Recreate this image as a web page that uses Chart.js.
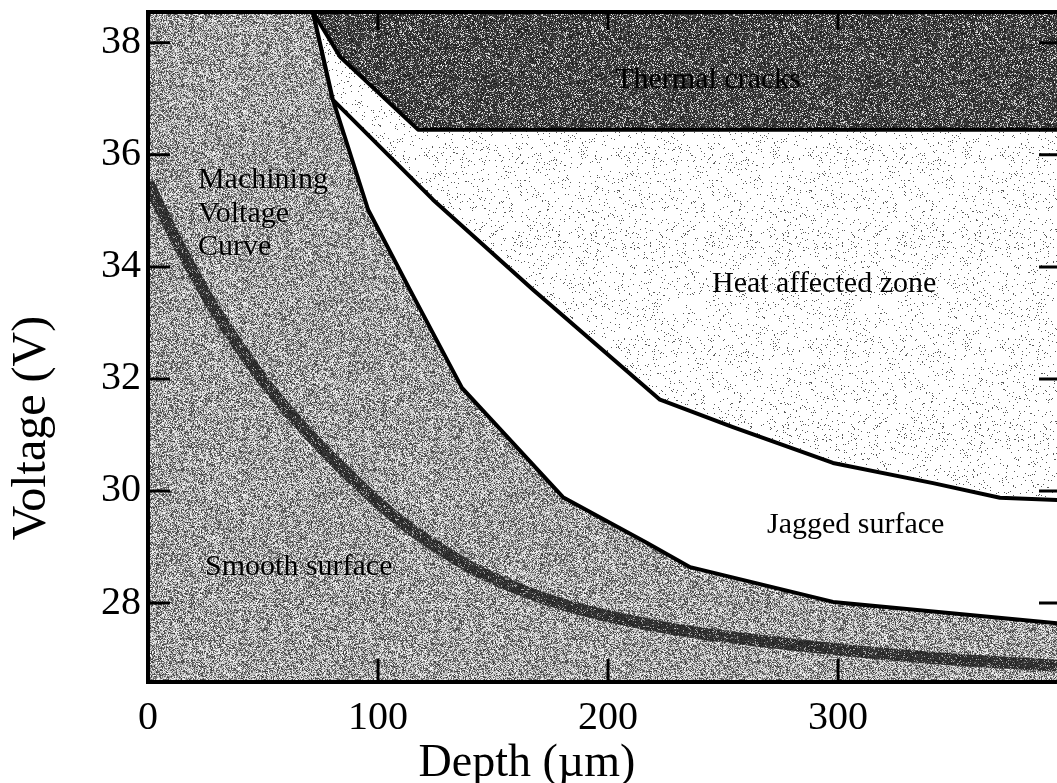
<!DOCTYPE html>
<html>
<head>
<meta charset="utf-8">
<script src="https://cdn.jsdelivr.net/npm/chart.js@4/dist/chart.umd.min.js"></script>
<style>
  html, body { margin: 0; padding: 0; background: #fff; overflow: hidden; }
  #wrap { width: 1057px; height: 783px; position: relative; }
</style>
</head>
<body>
<div id="wrap"><canvas id="c" width="1057" height="783"></canvas></div>
<script>
// Machining voltage curve: depth (µm) vs voltage (V)
const curveDepth = [0, 12.6, 28.3, 51.7, 74.8, 92.2, 109.6, 128.3, 145.7, 182.2, 218.3, 240.0, 297.8, 341.3, 395.2];
const curveVolt  = [35.5, 34.45, 33.29, 31.89, 30.80, 30.09, 29.46, 28.93, 28.52, 27.95, 27.61, 27.46, 27.18, 27.02, 26.88];

// Boundary between smooth surface and jagged surface
const smoothEdgeDepth = [71.7, 80.4, 95.7, 113.9, 136.5, 180.4, 217.0, 235.7, 297.8, 395.2];
const smoothEdgeVolt  = [38.55, 36.98, 35.02, 33.59, 31.84, 29.89, 29.07, 28.64, 28.02, 27.64];

// Boundary between jagged surface and heat affected zone
const hazEdgeDepth = [71.7, 80.4, 123.9, 167.4, 222.6, 254.3, 297.8, 341.3, 370.4, 395.2];
const hazEdgeVolt  = [38.55, 36.98, 35.20, 33.59, 31.63, 31.14, 30.50, 30.14, 29.88, 29.84];

// Lower boundary of the thermal cracks zone
const crackEdgeDepth = [71.7, 83.5, 117.4, 395.2];
const crackEdgeVolt  = [38.55, 37.75, 36.45, 36.45];

// Axis ticks
const xTicks = [0, 100, 200, 300];
const yTicks = [28, 30, 32, 34, 36, 38];

const toPoints = (xs, ys) => xs.map((x, i) => ({ x: x, y: ys[i] }));

const canvas = document.getElementById('c');
const ctx0 = canvas.getContext('2d');

// Grainy halftone textures for the shaded zones
function grain(seed, shade) {
  const size = 192;
  const tile = document.createElement('canvas');
  tile.width = size; tile.height = size;
  const g = tile.getContext('2d');
  const img = g.createImageData(size, size);
  let s = seed >>> 0;
  for (let i = 0; i < size * size; i++) {
    s = (Math.imul(s, 1664525) + 1013904223) >>> 0;
    const v = shade(s / 4294967296);
    img.data[i * 4] = v; img.data[i * 4 + 1] = v; img.data[i * 4 + 2] = v; img.data[i * 4 + 3] = 255;
  }
  g.putImageData(img, 0, 0);
  return ctx0.createPattern(tile, 'repeat');
}
const smoothTone = grain(11, u => u < 0.45 ? Math.round(55 + u * 190) : Math.round(165 + (u - 0.45) * 160));
const crackTone  = grain(23, u => u < 0.75 ? Math.round(25 + u * 70) : Math.round(120 + (u - 0.75) * 500));
const hazTone    = grain(37, u => u < 0.04 ? 90 : 255);
const curveTone  = grain(51, u => u < 0.88 ? Math.round(30 + u * 40) : Math.round(120 + (u - 0.88) * 600));

const serif = "'Liberation Serif', 'Times New Roman', serif";

// Zone labels, placed in data coordinates
const notes = [
  { text: 'Thermal cracks', x: 243.5, y: 37.34, align: 'center', glow: false },
  { text: 'Machining', x: 21.7, y: 35.55, align: 'left', glow: true },
  { text: 'Voltage', x: 21.7, y: 34.95, align: 'left', glow: true },
  { text: 'Curve', x: 21.7, y: 34.36, align: 'left', glow: true },
  { text: 'Heat affected zone', x: 245.2, y: 33.70, align: 'left', glow: false },
  { text: 'Jagged surface', x: 269.1, y: 29.39, align: 'left', glow: false },
  { text: 'Smooth surface', x: 24.8, y: 28.64, align: 'left', glow: true }
];

const plotBackground = {
  id: 'plotBackground',
  beforeDatasetsDraw(chart) {
    const { ctx, chartArea: a } = chart;
    ctx.save();
    ctx.fillStyle = smoothTone;
    ctx.fillRect(a.left, a.top, a.right - a.left, a.bottom - a.top);
    ctx.restore();
  }
};

const frameAndNotes = {
  id: 'frameAndNotes',
  afterDatasetsDraw(chart) {
    const { ctx, chartArea: a, scales } = chart;
    ctx.save();
    // zone labels
    ctx.fillStyle = '#000';
    ctx.font = '30px ' + serif;
    ctx.textBaseline = 'middle';
    notes.forEach(n => {
      ctx.shadowColor = n.glow ? 'rgba(255,255,255,0.55)' : 'transparent';
      ctx.shadowBlur = n.glow ? 3 : 0;
      ctx.textAlign = n.align;
      ctx.fillText(n.text, scales.x.getPixelForValue(n.x), scales.y.getPixelForValue(n.y));
    });
    ctx.shadowColor = 'transparent';
    ctx.shadowBlur = 0;
    // frame
    ctx.strokeStyle = '#000';
    ctx.lineWidth = 4;
    ctx.beginPath();
    ctx.moveTo(a.right + 2, a.top);
    ctx.lineTo(a.left, a.top);
    ctx.lineTo(a.left, a.bottom);
    ctx.lineTo(a.right + 2, a.bottom);
    ctx.stroke();
    // inward ticks
    ctx.lineWidth = 3;
    ctx.beginPath();
    yTicks.forEach(v => {
      const py = scales.y.getPixelForValue(v);
      ctx.moveTo(a.left, py); ctx.lineTo(a.left + 22, py);
      ctx.moveTo(a.right - 18, py); ctx.lineTo(a.right, py);
    });
    xTicks.forEach(v => {
      if (v === 0) return;
      const px = scales.x.getPixelForValue(v);
      ctx.moveTo(px, a.bottom); ctx.lineTo(px, a.bottom - 23);
      ctx.moveTo(px, a.top); ctx.lineTo(px, a.top + 18);
    });
    ctx.stroke();
    ctx.restore();
  },
  afterDraw(chart) {
    const { ctx } = chart;
    ctx.save();
    ctx.fillStyle = '#000';
    ctx.textAlign = 'center';
    ctx.textBaseline = 'alphabetic';
    ctx.font = '46px ' + serif;
    ctx.fillText('Depth (µm)', 527, 776);
    ctx.translate(45, 428);
    ctx.rotate(-Math.PI / 2);
    ctx.font = '48px ' + serif;
    ctx.fillText('Voltage (V)', 0, 0);
    ctx.restore();
  }
};

const lineStyle = { pointRadius: 0, tension: 0, borderJoinStyle: 'round', borderCapStyle: 'round' };
const noEdgePadding = s => { s.paddingTop = 0; s.paddingBottom = 0; s.paddingLeft = 0; s.paddingRight = 0; };

new Chart(canvas, {
  type: 'line',
  data: {
    datasets: [
      { label: 'Machining Voltage Curve', data: toPoints(curveDepth, curveVolt),
        borderColor: curveTone, borderWidth: 12, fill: false, pointRadius: 0,
        cubicInterpolationMode: 'monotone' },
      Object.assign({ label: 'Thermal cracks', data: toPoints(crackEdgeDepth, crackEdgeVolt),
        borderColor: '#000', borderWidth: 4, backgroundColor: crackTone, fill: 'end' }, lineStyle),
      Object.assign({ label: 'Heat affected zone', data: toPoints(hazEdgeDepth, hazEdgeVolt),
        borderColor: '#000', borderWidth: 4, backgroundColor: hazTone, fill: 'end' }, lineStyle),
      Object.assign({ label: 'Jagged surface', data: toPoints(smoothEdgeDepth, smoothEdgeVolt),
        borderColor: '#000', borderWidth: 4, backgroundColor: '#fff', fill: 'end' }, lineStyle)
    ]
  },
  options: {
    responsive: false,
    devicePixelRatio: 1,
    animation: false,
    layout: { padding: { top: 12, right: 0, bottom: 0, left: 0 } },
    plugins: { legend: { display: false }, tooltip: { enabled: false } },
    scales: {
      x: {
        type: 'linear', min: 0, max: 395.2,
        afterBuildTicks: s => { s.ticks = xTicks.map(v => ({ value: v })); },
        afterFit: s => { s.height = 101; noEdgePadding(s); },
        grid: { display: false, drawTicks: false },
        border: { display: false },
        ticks: { color: '#000', padding: 12, font: { family: serif, size: 40 } }
      },
      y: {
        type: 'linear', min: 26.59, max: 38.55,
        afterBuildTicks: s => { s.ticks = yTicks.map(v => ({ value: v })); },
        afterFit: s => { s.width = 148; noEdgePadding(s); },
        grid: { display: false, drawTicks: false },
        border: { display: false },
        ticks: { color: '#000', padding: 7, font: { family: serif, size: 40 } }
      }
    }
  },
  plugins: [plotBackground, frameAndNotes]
});
</script>
</body>
</html>
